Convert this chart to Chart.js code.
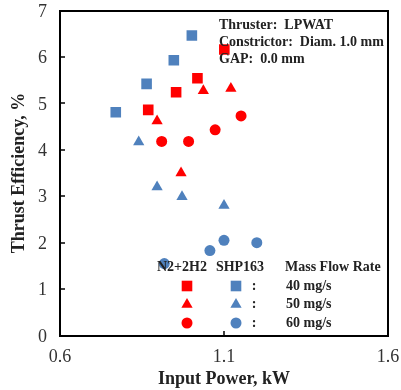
<!DOCTYPE html>
<html>
<head>
<meta charset="utf-8">
<script src="https://cdn.jsdelivr.net/npm/chart.js@4"></script>
<style>
html,body{margin:0;padding:0;background:#fff;}
canvas{display:block;background:#fff;}
</style>
</head>
<body>
<canvas id="c" width="401" height="390"></canvas>
<script>
// ---- data ----
const redSquareX = [0.869, 0.954, 1.019, 1.101];
const redSquareY = [4.86, 5.24, 5.54, 6.16];
const blueSquareX = [0.770, 0.864, 0.947, 1.002];
const blueSquareY = [4.81, 5.42, 5.93, 6.46];
const redTriX = [0.896, 0.969, 1.037, 1.121];
const redTriY = [4.62, 3.50, 5.27, 5.32];
const blueTriX = [0.840, 0.896, 0.972, 1.100];
const blueTriY = [4.17, 3.20, 2.99, 2.80];
const redCircX = [0.910, 0.992, 1.073, 1.152];
const redCircY = [4.18, 4.18, 4.43, 4.73];
const blueCircX = [0.918, 1.057, 1.100, 1.200];
const blueCircY = [1.55, 1.83, 2.05, 2.00];
const xTicks = [0.6, 1.1, 1.6];
const yTicks = [0, 1, 2, 3, 4, 5, 6, 7];
const annotationLines = ["Thruster:  LPWAT", "Constrictor:  Diam. 1.0 mm", "GAP:  0.0 mm"];
const legendHeaders = ["N2+2H2", "SHP163", "Mass Flow Rate"];
const legendRates = ["40 mg/s", "50 mg/s", "60 mg/s"];
const legendStyles = ["rect", "triangle", "circle"];

const RED = "#FF0000";
const BLUE = "#4F81BD";
const SERIF = "'Liberation Serif','Times New Roman',serif";

function pts(xs, ys) { return xs.map((x, i) => ({x: x, y: ys[i]})); }

function ds(label, xs, ys, color, style, r) {
  return {label: label, data: pts(xs, ys), backgroundColor: color, borderColor: color,
    borderWidth: 0, pointStyle: style, pointRadius: r, pointHoverRadius: r};
}

function marker(ctx, style, x, y, color) {
  ctx.save();
  ctx.fillStyle = color;
  ctx.beginPath();
  if (style === "rect") {
    const s = 5.3;
    ctx.rect(x - s, y - s, 2 * s, 2 * s);
  } else if (style === "triangle") {
    const r = 6.5;
    ctx.moveTo(x, y - r);
    ctx.lineTo(x + r * Math.sin(2 * Math.PI / 3), y - r * Math.cos(2 * Math.PI / 3));
    ctx.lineTo(x + r * Math.sin(4 * Math.PI / 3), y - r * Math.cos(4 * Math.PI / 3));
    ctx.closePath();
  } else {
    ctx.arc(x, y, 5.5, 0, Math.PI * 2);
  }
  ctx.fill();
  ctx.restore();
}

const framePlugin = {
  id: "frame",
  afterDraw(chart) {
    const ctx = chart.ctx;
    const a = chart.chartArea;
    const xs = chart.scales.x, ys = chart.scales.y;
    ctx.save();
    ctx.fillStyle = "#000000";
    ctx.beginPath();
    const L = Math.round(a.left), T = Math.round(a.top), R = Math.round(a.right), B = Math.round(a.bottom);
    // frame edges as filled rectangles in one path
    ctx.rect(L - 1, T - 1, R - L + 2, 2);
    ctx.rect(L - 1, B - 1, R - L + 2, 2);
    ctx.rect(L - 1, T - 1, 2, B - T + 2);
    ctx.rect(R - 1, T - 1, 2, B - T + 2);
    // inner ticks from the library scales
    yTicks.forEach(v => {
      const py = Math.round(ys.getPixelForValue(v));
      ctx.rect(L, py - 0.75, 5, 1.5);
    });
    xTicks.forEach(v => {
      const px = Math.round(xs.getPixelForValue(v));
      ctx.rect(px - 0.75, B - 5, 1.5, 5);
    });
    ctx.fill("nonzero");
    ctx.restore();

    ctx.save();
    ctx.fillStyle = "#222";
    ctx.font = "bold 14px " + SERIF;
    ctx.textAlign = "left";
    ctx.textBaseline = "middle";
    annotationLines.forEach((t, i) => ctx.fillText(t, 219, 25 + i * 17));

    ctx.textAlign = "center";
    ctx.fillText(legendHeaders[0], 182, 267);
    ctx.fillText(legendHeaders[1], 240, 267);
    ctx.textAlign = "left";
    ctx.fillText(legendHeaders[2], 285, 267);
    legendStyles.forEach((s, i) => {
      const y = 286 + i * 18.5;
      marker(ctx, s, 187, y, RED);
      marker(ctx, s, 236, y, BLUE);
      ctx.fillStyle = "#222";
      ctx.textAlign = "center";
      ctx.fillText(":", 254, y);
      ctx.textAlign = "left";
      ctx.fillText(legendRates[i], 286, y);
    });
    ctx.restore();
  }
};

new Chart(document.getElementById("c"), {
  type: "scatter",
  data: {
    datasets: [
      ds("N2+2H2 40 mg/s", redSquareX, redSquareY, RED, "rect", 7.5),
      ds("SHP163 40 mg/s", blueSquareX, blueSquareY, BLUE, "rect", 7.5),
      ds("N2+2H2 50 mg/s", redTriX, redTriY, RED, "triangle", 6.5),
      ds("SHP163 50 mg/s", blueTriX, blueTriY, BLUE, "triangle", 6.5),
      ds("N2+2H2 60 mg/s", redCircX, redCircY, RED, "circle", 5.5),
      ds("SHP163 60 mg/s", blueCircX, blueCircY, BLUE, "circle", 5.5)
    ]
  },
  options: {
    responsive: false,
    animation: false,
    devicePixelRatio: 1,
    layout: {padding: {top: 10.5, right: 13, left: 0, bottom: 0}},
    plugins: {legend: {display: false}, tooltip: {enabled: false}},
    scales: {
      x: {
        type: "linear", position: "bottom", min: 0.6, max: 1.6,
        afterBuildTicks(s) { s.ticks = xTicks.map(v => ({value: v})); },
        afterFit(s) { s.height = 54.5; s.paddingLeft = 0; s.paddingRight = 0; },
        grid: {display: false, drawTicks: false},
        border: {display: true, color: "#000", width: 2},
        ticks: {color: "#333", font: {family: SERIF, size: 18}, padding: 11,
          callback: v => v.toFixed(1), maxRotation: 0, autoSkip: false},
        title: {display: true, text: "Input Power, kW", color: "#222",
          font: {family: SERIF, size: 18, weight: "bold"}, padding: {top: 0, bottom: 0}}
      },
      y: {
        type: "linear", position: "left", min: 0, max: 7,
        afterBuildTicks(s) { s.ticks = yTicks.map(v => ({value: v})); },
        afterFit(s) { s.width = 60; s.paddingTop = 0; s.paddingBottom = 0; },
        grid: {display: false, drawTicks: false},
        border: {display: true, color: "#000", width: 2},
        ticks: {color: "#333", font: {family: SERIF, size: 18}, padding: 13, labelOffset: 1.5,
          callback: v => String(v), autoSkip: false},
        title: {display: true, text: "Thrust Efficiency, %", color: "#222",
          font: {family: SERIF, size: 18, weight: "bold"}, padding: {top: 9, bottom: 0}}
      }
    }
  },
  plugins: [framePlugin]
});
</script>
</body>
</html>
